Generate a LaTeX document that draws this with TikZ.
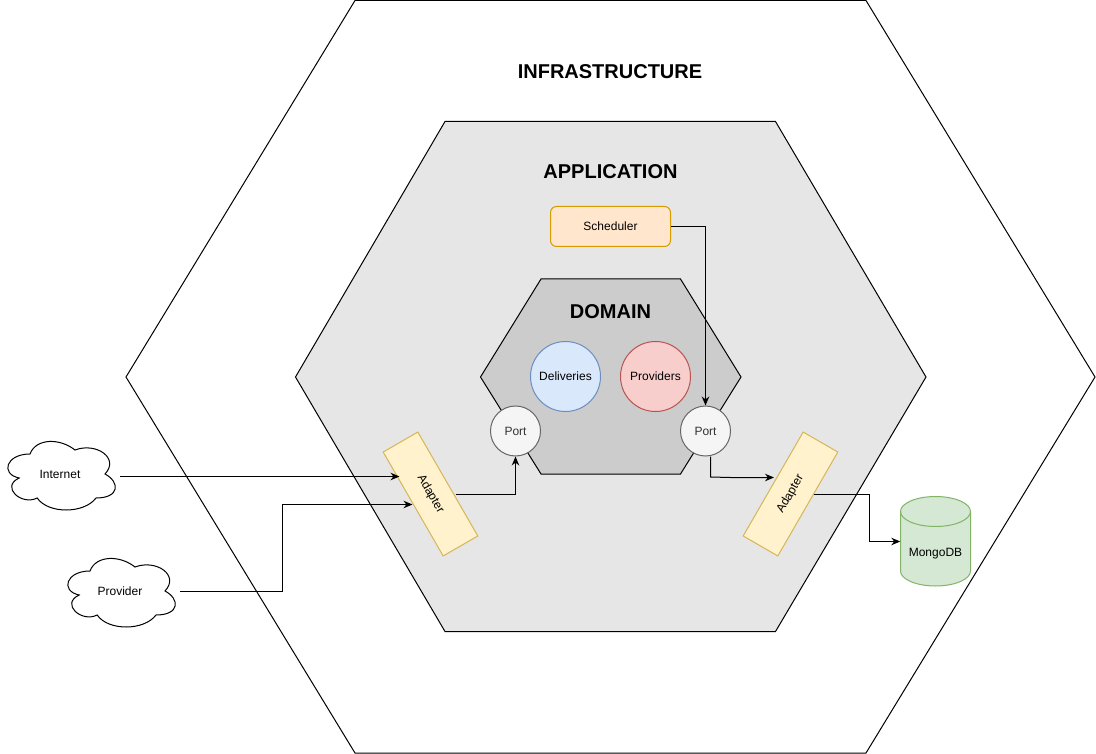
\documentclass[tikz,border=0pt]{standalone}
\usepackage{fontspec}
\setmainfont{Liberation Sans}
\usetikzlibrary{arrows.meta,calc}
\tikzset{
  hexa/.style={draw=black,line width=1pt,line join=miter},
  title/.style={font=\fontsize{20}{24}\selectfont\bfseries,inner sep=0pt},
  lbl/.style={font=\fontsize{12}{14}\selectfont,inner sep=0pt,text=black},
  ball/.style={circle,draw,line width=1pt,minimum size=70pt,inner sep=0pt,font=\fontsize{12}{14}\selectfont},
  portnode/.style={circle,draw=gportd,fill=gport,line width=1pt,minimum size=50pt,inner sep=0pt,text=gportt,font=\fontsize{12}{14}\selectfont},
  adapterbox/.style={rectangle,draw=gyeld,fill=gyel,line width=1pt,minimum width=120pt,minimum height=40pt,inner sep=0pt,font=\fontsize{12}{14}\selectfont},
  cloudbox/.style={rectangle,minimum width=120pt,minimum height=80pt,inner sep=0pt,font=\fontsize{12}{14}\selectfont},
  link/.style={draw=black,line width=1pt,-{Stealth[length=9pt,width=7.5pt]},line join=miter},
}
\definecolor{gapp}{HTML}{E6E6E6}
\definecolor{gdom}{HTML}{CCCCCC}
\definecolor{gport}{HTML}{F5F5F5}
\definecolor{gportd}{HTML}{666666}
\definecolor{gportt}{HTML}{333333}
\definecolor{gyel}{HTML}{FFF2CC}
\definecolor{gyeld}{HTML}{D6B656}
\definecolor{gblue}{HTML}{DAE8FC}
\definecolor{gblued}{HTML}{6C8EBF}
\definecolor{gred}{HTML}{F8CECC}
\definecolor{gredd}{HTML}{B85450}
\definecolor{gorg}{HTML}{FFE6CC}
\definecolor{gorgd}{HTML}{D79B00}
\definecolor{ggrn}{HTML}{D5E8D4}
\definecolor{ggrnd}{HTML}{82B366}
\newcommand{\cloudat}[2]{%
  \begin{scope}[shift={(#1,#2)}]
  \draw[line width=1pt,fill=white]
    (30,20) .. controls (6,20) and (0,40) .. (19.2,44)
    .. controls (0,52.8) and (21.6,72) .. (37.2,64)
    .. controls (48,80) and (84,80) .. (96,64)
    .. controls (120,64) and (120,48) .. (105,40)
    .. controls (120,24) and (96,8) .. (75,16)
    .. controls (60,4) and (36,4) .. (30,20) -- cycle;
  \end{scope}}
\begin{document}
\begin{tikzpicture}[x=1pt,y=-1pt]
\useasboundingbox (0,0) rectangle (1096,754);
\fill[white] (0,0) rectangle (1096,754);
\draw[hexa,fill=white] (126,377) -- (355,0.5) -- (866,0.5) -- (1095,377) -- (866,753) -- (355,753) -- cycle;
\draw[hexa,fill=gapp] (295.5,377) -- (445,121.5) -- (775.5,121.5) -- (926,377) -- (775.5,631.5) -- (445,631.5) -- cycle;
\draw[hexa,fill=gdom] (480.5,377) -- (541,279) -- (680.5,279) -- (741,377) -- (680.5,474) -- (541,474) -- cycle;
\node[title] (tinfra) at (610,71.7) {INFRASTRUCTURE};
\node[title] (tapp) at (610.5,171.7) {APPLICATION};
\node[title] (tdom) at (610.5,311.7) {DOMAIN};
\node[ball,draw=gblued,fill=gblue] (deliv) at (565.5,376.5) {Deliveries};
\node[ball,draw=gredd,fill=gred] (prov) at (655.5,376.5) {Providers};
\node[rectangle,rounded corners=6pt,draw=gorgd,fill=gorg,line width=1pt,minimum width=120pt,minimum height=40pt,inner sep=0pt,font=\fontsize{12}{14}\selectfont] (sched) at (610.5,226.5) {Scheduler};
\node[portnode] (portL) at (515.5,431) {Port};
\node[portnode] (portR) at (705.5,431) {Port};
\node[adapterbox,rotate=-60] (adL) at (430.5,494) {Adapter};
\node[adapterbox,rotate=60] (adR) at (790.5,494) {Adapter};
\cloudat{0}{434}
\node[cloudbox] (inet) at (60,474) {Internet};
\cloudat{60}{551}
\node[cloudbox] (provd) at (120,591) {Provider};
% cylinder
\draw[line width=1pt,draw=ggrnd,fill=ggrn] (900.5,511.5) arc[start angle=180,end angle=360,x radius=35,y radius=15] -- (970.5,571) arc[start angle=0,end angle=180,x radius=35,y radius=15] -- cycle;
\draw[line width=1pt,draw=ggrnd] (900.5,511.5) arc[start angle=180,end angle=0,x radius=35,y radius=15];
\node[rectangle,minimum width=70pt,minimum height=89pt,inner sep=0pt,font=\fontsize{12}{14}\selectfont] (mongo) at (935.5,541.5) {};
\node[lbl] (mongot) at (935.5,554) {MongoDB};
% connectors
\draw[link] ($(inet.east)+(0,2.5)$) -- ($(adL.center)+(-31,-17.5)$);
\draw[link] ($(provd.east)+(0,0.5)$) -- ++(102,0) |- ($(adL.center)+(-18,10.5)$);
\draw[link] ($(adL.center)+(25,0.5)$) -| (portL.south);
\draw[link] (sched.east) -| (portR.north);
\draw[link] ($(portR.south)+(5,0)$) -- ++(0,20.5) -- ++(20,0.5) -- ($(adR.center)+(-16.5,-16.5)$);
\draw[link] ($(adR.center)+(23,0)$) -- ++(55.5,0) |- (mongo.west);
\end{tikzpicture}
\end{document}
